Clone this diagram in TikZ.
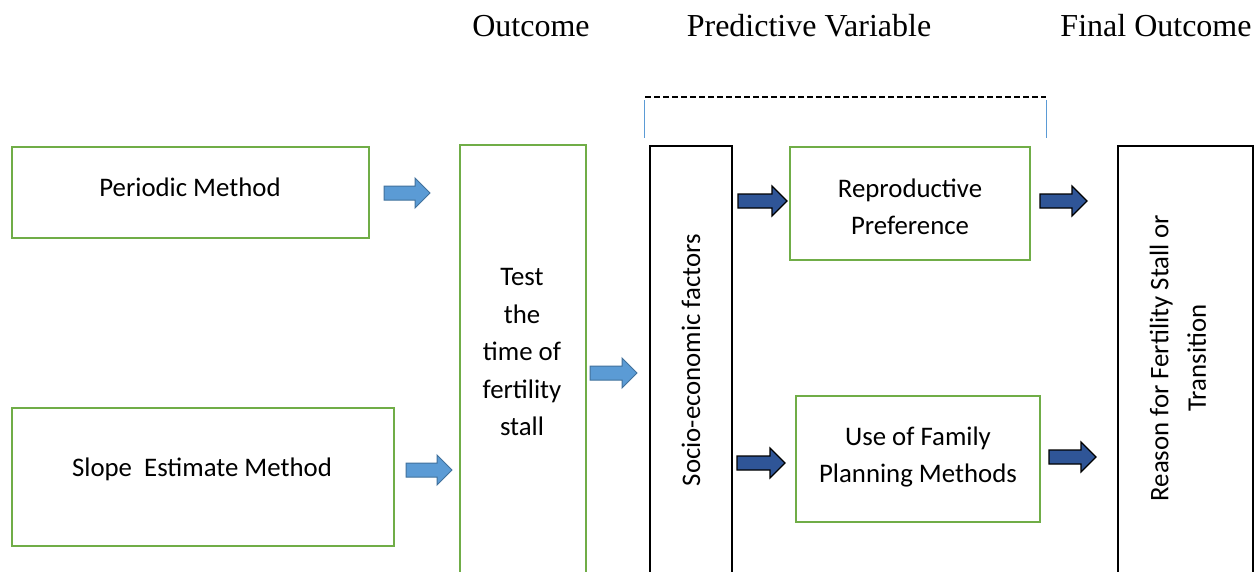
\documentclass[tikz,border=0pt]{standalone}
\usepackage{fontspec}
\setmainfont{Carlito}
\newfontfamily\headfont{Liberation Serif}
\definecolor{boxgreen}{HTML}{70AD47}
\definecolor{lightarrow}{HTML}{5B9BD5}
\definecolor{lightarrowline}{HTML}{41719C}
\definecolor{darkarrow}{HTML}{2F5597}
\definecolor{bracketblue}{HTML}{5B9BD5}
\tikzset{
  x=1pt, y=-1pt,
  greenbox/.style={draw=boxgreen, line width=2pt},
  blackbox/.style={draw=black, line width=1.8pt},
  bodytext/.style={font=\fontsize{26.8}{37.5}\selectfont, align=center, inner sep=0pt},
  headtext/.style={font=\headfont\fontsize{32}{36}\selectfont, inner sep=0pt},
  lightarr/.style={fill=lightarrow, draw=lightarrowline, line width=1pt},
  darkarr/.style={fill=darkarrow, draw=black, line width=1.2pt},
  pics/blockarrow/.style args={#1/#2}{code={
    \path[#2] (0,-7) -- (#1-15,-7) -- (#1-15,-15) -- (#1,0) -- (#1-15,15) -- (#1-15,7) -- (0,7) -- cycle;
  }}
}
\begin{document}
\begin{tikzpicture}
\clip (0,0) rectangle (1257,571);
\fill[white] (0,0) rectangle (1257,571);

% headings
\node[headtext] (h1) at (531,26) {Outcome};
\node[headtext] (h2) at (809,26) {Predictive Variable};
\node[headtext] (h3) at (1156,26) {Final Outcome};

% bracket
\draw[dashed, line width=1.2pt, dash pattern=on 6pt off 3pt] (645,97) coordinate (bl) -- (1046,97) coordinate (br);
\draw[bracketblue, line width=0.8pt] (644,100) -- (644,138);
\draw[bracketblue, line width=0.8pt] (1046,100) -- (1046,138);

% boxes
\draw[greenbox] (12,147) rectangle (369,238);
\node[bodytext] (periodic) at (190,187) {Periodic Method};

\draw[greenbox] (12,408) rectangle (394,546);
\node[bodytext] (slope) at (202,469) {Slope\ \ Estimate Method};

\draw[greenbox] (460,145) rectangle (586,600);
\node[bodytext] (test) at (522,352) {Test\\the\\time of\\fertility\\stall};

\draw[blackbox] (650,146) rectangle (732,600);
\node[bodytext, rotate=90] (socio) at (691,360) {Socio-economic factors};

\draw[greenbox] (790,147) rectangle (1030,260);
\node[bodytext] (repro) at (910,207) {Reproductive\\Preference};

\draw[greenbox] (796,396) rectangle (1040,522);
\node[bodytext] (family) at (918,457) {Use of Family\\Planning Methods};

\draw[blackbox] (1118,146) rectangle (1253,600);
\node[bodytext, rotate=90] (reason) at (1178,358) {Reason for Fertility Stall or\\Transition};

% block arrows
\pic at (384,193) {blockarrow={46/lightarr}};
\pic at (406,470) {blockarrow={46/lightarr}};
\pic at (590,373) {blockarrow={47/lightarr}};
\pic at (738,201) {blockarrow={49/darkarr}};
\pic at (1040,201) {blockarrow={47/darkarr}};
\pic at (737,463) {blockarrow={48/darkarr}};
\pic at (1049,457) {blockarrow={47/darkarr}};
\end{tikzpicture}
\end{document}
